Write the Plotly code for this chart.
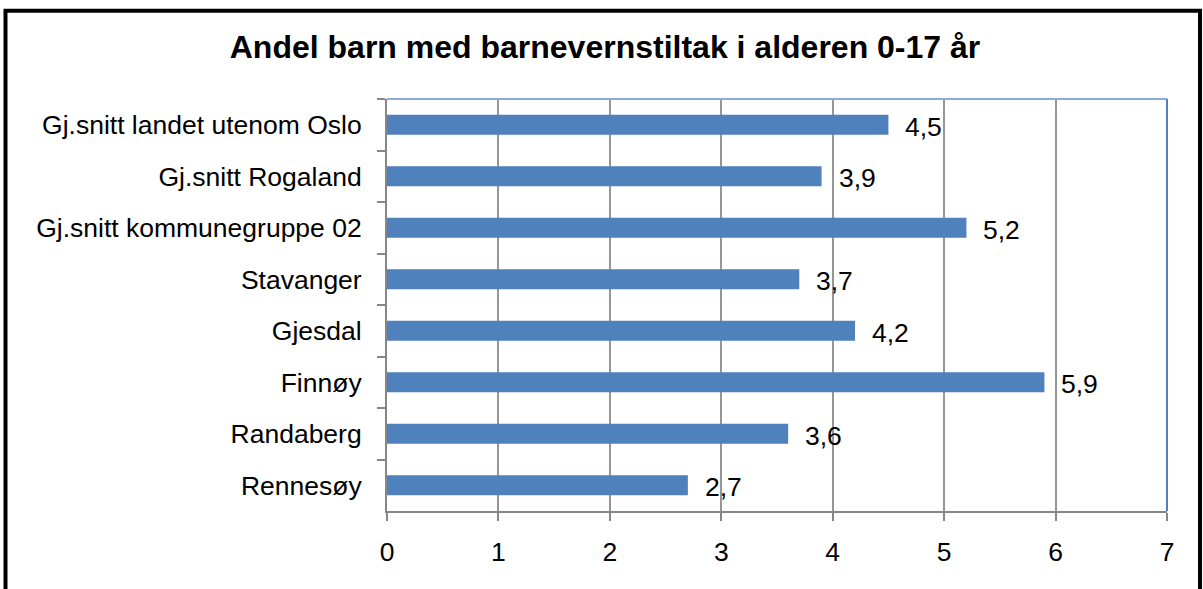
import plotly.graph_objects as go

# Categories listed top to bottom, with their shares (%)
categories = [
    "Gj.snitt landet utenom Oslo",
    "Gj.snitt Rogaland",
    "Gj.snitt kommunegruppe 02",
    "Stavanger",
    "Gjesdal",
    "Finnøy",
    "Randaberg",
    "Rennesøy",
]
values = [4.5, 3.9, 5.2, 3.7, 4.2, 5.9, 3.6, 2.7]
x_ticks = [0, 1, 2, 3, 4, 5, 6, 7]
title_text = "Andel barn med barnevernstiltak i alderen 0-17 år"

W, H = 1203, 589
ML, MR, MT, MB = 387, 36, 99, 78
PW, PH = W - ML - MR, H - MT - MB

FONT = "Liberation Sans, Arial, sans-serif"
BAR_BLUE = "#4f81bd"
AXIS_GREY = "#868686"
GRID_GREY = "#969696"
LABEL_SIZE = 26.5


def px_x(px):
    return (px - ML) / PW


def px_y(py):
    return (H - MB - py) / PH


fig = go.Figure()
fig.add_trace(
    go.Bar(
        x=values,
        y=categories,
        orientation="h",
        marker=dict(color=BAR_BLUE, line=dict(width=0)),
        hoverinfo="x+y",
    )
)

# value labels to the right of each bar
annotations = []
for cat, v in zip(categories, values):
    annotations.append(
        dict(
            x=v,
            y=cat,
            xref="x",
            yref="y",
            text=f"{v:.1f}".replace(".", ","),
            showarrow=False,
            xanchor="left",
            yanchor="middle",
            xshift=15,
            yshift=-2,
            font=dict(family=FONT, size=LABEL_SIZE, color="#000000"),
        )
    )

shapes = [
    # plot area frame: top and right edges
    dict(type="line", xref="paper", yref="paper", x0=0, x1=1, y0=1, y1=1,
         line=dict(color="#8eaad6", width=2), layer="above"),
    dict(type="line", xref="paper", yref="paper", x0=1, x1=1, y0=0, y1=1,
         line=dict(color=BAR_BLUE, width=2), layer="above"),
    # outer chart frame
    dict(type="rect", xref="paper", yref="paper",
         x0=px_x(5.5), x1=px_x(1200), y0=px_y(620), y1=px_y(10.8),
         line=dict(color="#000000", width=4), layer="above"),
]

fig.update_layout(
    width=W,
    height=H,
    margin=dict(l=ML, r=MR, t=MT, b=MB),
    paper_bgcolor="#ffffff",
    plot_bgcolor="#ffffff",
    showlegend=False,
    bargap=0.61,
    font=dict(family=FONT, size=LABEL_SIZE, color="#000000"),
    title=dict(
        text=f"<b>{title_text}</b>",
        font=dict(family=FONT, size=32, color="#000000"),
        xref="container",
        yref="container",
        x=605 / W,
        y=1 - 47 / H,
        xanchor="center",
        yanchor="middle",
    ),
    xaxis=dict(
        range=[0, 7],
        tickvals=x_ticks,
        ticktext=[str(t) for t in x_ticks],
        showgrid=True,
        gridcolor=GRID_GREY,
        gridwidth=1.5,
        zeroline=False,
        showline=True,
        linecolor=AXIS_GREY,
        linewidth=2,
        ticks="outside",
        ticklen=8,
        tickwidth=2,
        tickcolor=AXIS_GREY,
        ticklabelstandoff=8,
        tickfont=dict(family=FONT, size=LABEL_SIZE, color="#000000"),
        fixedrange=True,
    ),
    yaxis=dict(
        categoryorder="array",
        categoryarray=categories,
        autorange="reversed",
        showgrid=False,
        zeroline=False,
        showline=True,
        linecolor=AXIS_GREY,
        linewidth=2,
        ticks="outside",
        tickson="boundaries",
        ticklen=8,
        tickwidth=2,
        tickcolor=AXIS_GREY,
        ticklabelstandoff=18,
        tickfont=dict(family=FONT, size=LABEL_SIZE, color="#000000"),
        fixedrange=True,
    ),
    annotations=annotations,
    shapes=shapes,
)

fig.write_html("out.html")
